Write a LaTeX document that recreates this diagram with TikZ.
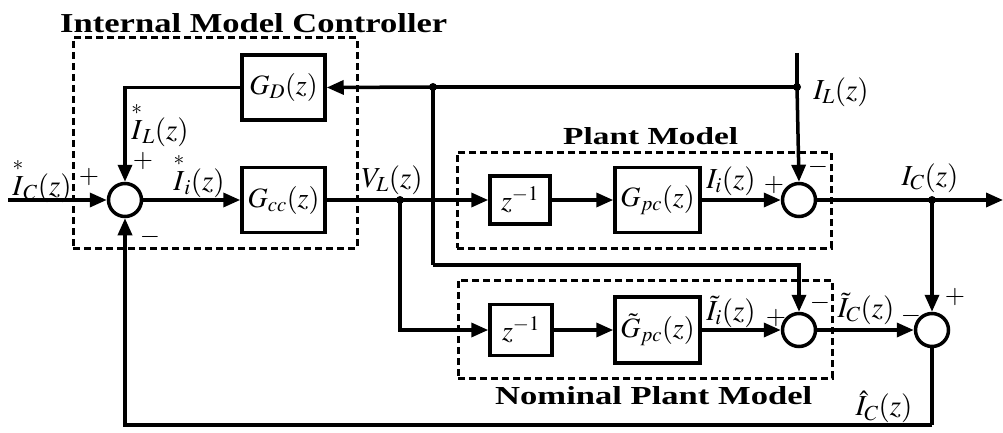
\documentclass[tikz,border=0pt]{standalone}
\usepackage{amsmath}
\usepackage{mathptmx}
\usepackage{graphicx}
\usepackage{fontspec}
\setmainfont{Liberation Serif}
\usetikzlibrary{arrows.meta}
\tikzset{
  sig/.style={line width=3.5pt},
  arr/.style={sig,-{Triangle[length=17pt,width=14pt]}},
  blk/.style={draw,line width=3.5pt,inner sep=0pt,font=\fontsize{28}{32}\selectfont},
  sumc/.style={draw,circle,line width=3.5pt,minimum size=33pt,inner sep=0pt},
  grp/.style={draw,line width=3pt,dash pattern=on 7pt off 4pt,inner sep=0pt},
  lbl/.style={inner sep=0pt,font=\fontsize{29}{33}\selectfont},
  sgn/.style={inner sep=0pt,font=\fontsize{26}{30}\selectfont},
  jdot/.style={circle,fill,inner sep=0pt,minimum size=8pt},
  ttl/.style={anchor=base west,inner sep=0pt},
}
\begin{document}
\begin{tikzpicture}[x=1pt,y=-1pt]
\useasboundingbox (0,0) rectangle (1003,433);

% group boxes
\node[grp,minimum width=284pt,minimum height=210pt] (imc) at (215,143) {};
\node[grp,minimum width=374pt,minimum height=96pt] (pm) at (644,200) {};
\node[grp,minimum width=374pt,minimum height=98pt] (npm) at (645,329) {};

% titles
\node[ttl] (t1) at (60,33) {\resizebox{387pt}{19pt}{\bfseries Internal Model Controller}};
\node[ttl] (t2) at (563,144) {\resizebox{175pt}{17pt}{\bfseries Plant Model}};
\node[ttl] (t3) at (495,404) {\resizebox{317pt}{18pt}{\bfseries Nominal Plant Model}};

% blocks
\node[sumc] (s1) at (125,200) {};
\node[blk,minimum width=83pt,minimum height=65pt] (gd) at (283.5,87.5) {$G_D(z)$};
\node[blk,minimum width=83pt,minimum height=65pt] (gcc) at (283.5,200) {$G_{cc}(z)$};
\node[blk,minimum width=60pt,minimum height=48pt] (zp) at (520,200) {$z^{-1}$};
\node[blk,minimum width=85pt,minimum height=65pt] (gpc) at (657.5,200) {$G_{pc}(z)$};
\node[sumc] (sp) at (799,200) {};
\node[blk,minimum width=62pt,minimum height=51pt] (zn) at (521,330) {$z^{-1}$};
\node[blk,minimum width=85pt,minimum height=66pt] (gpcn) at (657.5,330) {$\tilde{G}_{pc}(z)$};
\node[sumc] (sn) at (799,330) {};
\node[sumc] (s3) at (932,330) {};

% junctions and free ends
\node[jdot] (jvl) at (400,200) {};
\node[jdot] (jgd) at (433,87) {};
\node[jdot] (jil) at (797,87) {};
\node[jdot] (jic) at (932,200) {};
\coordinate (in) at (8,200);
\coordinate (iltop) at (797,53);
\coordinate (out) at (1003,200);
\coordinate (cross) at (433,265);
\coordinate (bot) at (932,425);

% connectors
\draw[arr] (in) -- (s1.west);
\draw[arr] (s1.east) -- (gcc.west);
\draw[sig] (gcc.east) -- (jvl.center);
\draw[arr] (jvl.center) -- (zp.west);
\draw[arr] (zp.east) -- (gpc.west);
\draw[arr] (gpc.east) -- (sp.west);
\draw[sig] (sp.east) -- (jic.center);
\draw[arr] (jic.center) -- (out);
\draw[sig] (iltop) -- (jil.center);
\draw[arr] (jil.center) -- (sp.north);
\draw[sig] (jil.center) -- (jgd.center);
\draw[arr] (jgd.center) -- (gd.east);
\draw[arr] (gd.west) -| (s1.north);
\draw[sig] (jgd.center) -- (cross);
\draw[arr] (cross) -| (sn.north);
\draw[arr] (jvl.center) |- (zn.west);
\draw[arr] (zn.east) -- (gpcn.west);
\draw[arr] (gpcn.east) -- (sn.west);
\draw[arr] (sn.east) -- (s3.west);
\draw[arr] (jic.center) -- (s3.north);
\draw[sig] (s3.south) -- (bot);
\draw[arr] (bot) -| (s1.south);

% labels
\node[lbl] (lic) at (42,180) {$\overset{*}{I}_C(z)$};
\node[sgn] (p1) at (89,177) {$+$};
\node[lbl] (lil) at (160,124) {$\overset{*}{I}_L(z)$};
\node[sgn] (p2) at (143,161) {$+$};
\node[lbl] (lii) at (199,175) {$\overset{*}{I}_i(z)$};
\node[sgn] (m1) at (150,237) {$-$};
\node[lbl] (lvl) at (392,180) {$V_L(z)$};
\node[lbl] (lilz) at (841,92) {$I_L(z)$};
\node[lbl] (liiz) at (731,181) {$I_i(z)$};
\node[sgn] (p3) at (774,185) {$+$};
\node[sgn] (m2) at (818,167) {$-$};
\node[lbl] (licz) at (930,178) {$I_C(z)$};
\node[lbl] (ltii) at (731,312) {$\tilde{I}_i(z)$};
\node[sgn] (p4) at (776,318) {$+$};
\node[sgn] (m3) at (820,303) {$-$};
\node[lbl] (ltic) at (866,309) {$\tilde{I}_C(z)$};
\node[sgn] (p5) at (955,297) {$+$};
\node[sgn] (m4) at (911,316) {$-$};
\node[lbl] (lhic) at (884,407) {$\hat{I}_C(z)$};
\end{tikzpicture}
\end{document}
